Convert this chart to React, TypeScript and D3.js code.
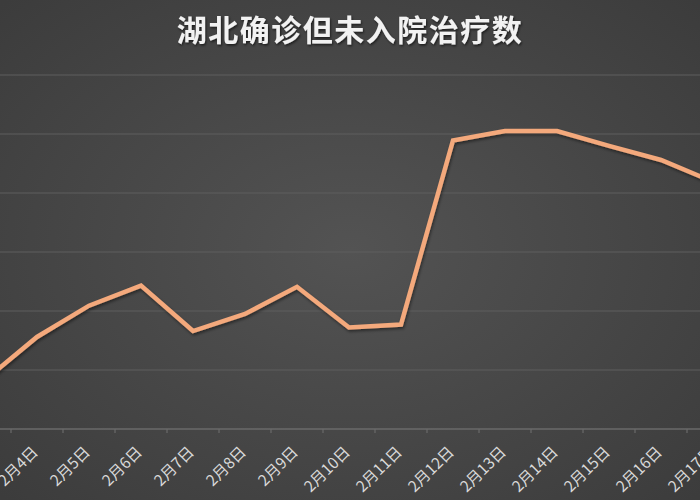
import React, { useEffect } from "react";
import * as d3 from "d3";

const TITLE = "湖北确诊但未入院治疗数";
const dates = [
  "2月3日", "2月4日", "2月5日", "2月6日", "2月7日", "2月8日", "2月9日", "2月10日",
  "2月11日", "2月12日", "2月13日", "2月14日", "2月15日", "2月16日", "2月17日",
];
const values = [830, 1560, 2090, 2430, 1660, 1950, 2410, 1720, 1770, 4890, 5050, 5050, 4800, 4560, 4190];
const yTicks = [0, 1000, 2000, 3000, 4000, 5000, 6000];

const W = 700;
const H = 500;

export default function App() {
  useEffect(() => {
    document.body.style.margin = "0";
  }, []);

  const x = d3.scaleBand<string>().domain(dates).range([-41, 739]).padding(0);
  const y = d3.scaleLinear().domain([0, 6000]).range([429, 75]);
  const bw = x.bandwidth();
  const cx = (d: string) => (x(d) as number) + bw / 2;

  const line = d3
    .line<number>()
    .x((_, i) => cx(dates[i]))
    .y((v) => y(v))
    .curve(d3.curveLinear);

  const boundaries = dates.map((d) => x(d) as number).concat([(x(dates[dates.length - 1]) as number) + bw]);

  return (
    <svg width={W} height={H} style={{ display: "block" }}>
      <defs>
        <radialGradient id="bg" cx="50%" cy="50%" r="70%">
          <stop offset="0%" stopColor="#535353" />
          <stop offset="100%" stopColor="#3c3c3c" />
        </radialGradient>
        <filter id="shadow" x="-10%" y="-10%" width="120%" height="130%">
          <feDropShadow dx="1" dy="2" stdDeviation="1.5" floodColor="#000" floodOpacity="0.45" />
        </filter>
        <filter id="tshadow" x="-10%" y="-20%" width="120%" height="150%">
          <feDropShadow dx="1" dy="1.5" stdDeviation="1" floodColor="#000" floodOpacity="0.6" />
        </filter>
      </defs>
      <rect x={0} y={0} width={W} height={H} fill="url(#bg)" />
      <g>
        {yTicks.slice(1).map((t) => (
          <line key={t} x1={0} x2={W} y1={y(t)} y2={y(t)} stroke="#5f5f5f" strokeWidth={1.2} />
        ))}
      </g>
      <line x1={0} x2={W} y1={y(0)} y2={y(0)} stroke="#6a6a6a" strokeWidth={1.5} />
      {boundaries.map((b, i) => (
        <line key={i} x1={b} x2={b} y1={y(0)} y2={y(0) + 4} stroke="#6a6a6a" strokeWidth={1.2} />
      ))}
      <g fontFamily="'Noto Sans CJK SC', 'Noto Sans', sans-serif" fontSize={15.5} fill="#d9d9d9">
        {dates.map((d) => (
          <text
            key={d}
            transform={`translate(${cx(d) - 3},${448}) rotate(-45)`}
            textAnchor="end"
            dominantBaseline="central"
          >
            {d}
          </text>
        ))}
      </g>
      <path
        d={line(values) || ""}
        fill="none"
        stroke="#F4A97C"
        strokeWidth={4.5}
        strokeLinejoin="miter"
        filter="url(#shadow)"
      />
      <text
        x={W / 2}
        y={41}
        textAnchor="middle"
        fontFamily="'Noto Sans CJK SC', sans-serif"
        fontWeight="bold"
        fontSize={30}
        letterSpacing={1.5}
        fill="#f2f2f2"
        filter="url(#tshadow)"
      >
        {TITLE}
      </text>
    </svg>
  );
}
